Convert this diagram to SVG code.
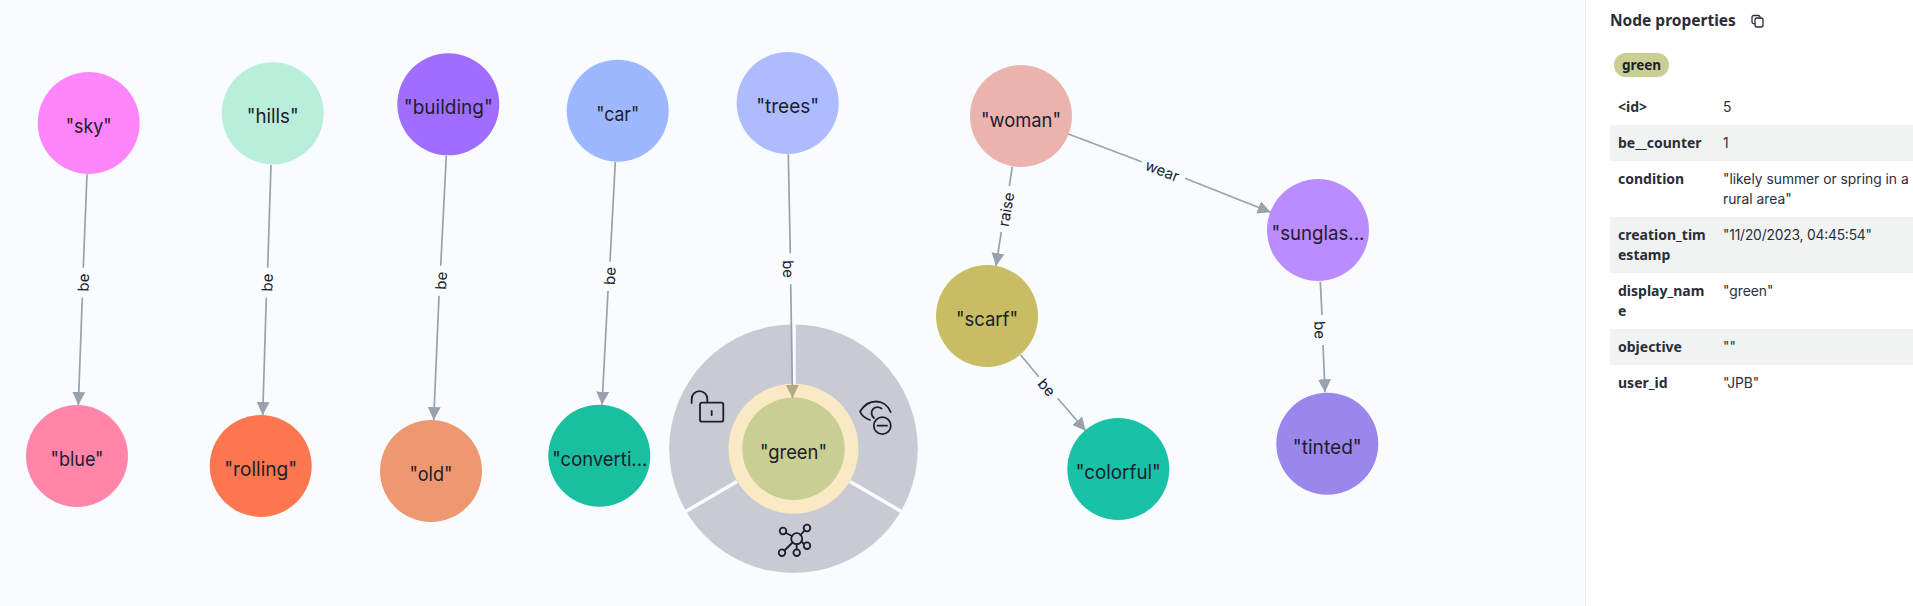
<svg xmlns="http://www.w3.org/2000/svg" width="1913" height="606" viewBox="0 0 1913 606">
<style>
.n text{font:19.5px Inter,"Noto Sans",sans-serif;fill:#1c202c;text-anchor:middle}
.e{stroke:#9aa1ae;stroke-width:1.7;fill:none}
.l{font:15px Inter,"Noto Sans",sans-serif;fill:#1c202c;text-anchor:middle;dominant-baseline:central}
.k{font:700 14px "Noto Sans",Inter,sans-serif;fill:#2a2e38}
.v{font:13.8px Inter,"Noto Sans",sans-serif;fill:#2a2e38}
.i{stroke:#1c202c;stroke-width:1.8;fill:none;stroke-linecap:round;stroke-linejoin:round}
.rs{fill:#f1f3f3}
</style>
<defs>
<marker id="a" markerUnits="userSpaceOnUse" markerWidth="14" markerHeight="14" refX="13" refY="7" orient="auto"><path d="M0 0.5L13 7L0 13.500Z" fill="#9aa1ae"/></marker>
<marker id="b" markerUnits="userSpaceOnUse" markerWidth="14" markerHeight="14" refX="13" refY="7" orient="auto"><path d="M0 0.5L13 7L0 13.500Z" fill="#b2a88a"/></marker>
</defs>
<rect width="1913" height="606" fill="#f9fcff"/>
<rect x="1586" y="0" width="327" height="606" fill="#fff"/>
<rect x="1585" y="0" width="1" height="606" fill="#e6ebf3"/>
<g id="menu">
<circle cx="793.500" cy="448.700" r="124.300" fill="#c8cbd3"/>
<path d="M794 323V385M737 481.500L684 512.500M850 481.500L903 512.500" stroke="#f9fcff" stroke-width="3.500"/>
<g id="icon-lock" class="i">
<path d="M691.700 403v-4a7.800 7.800 0 0 1 15.600 0v3"/>
<rect x="700" y="402.700" width="23.300" height="19" rx="2"/>
<path d="M711.700 411v4"/>
</g>
<g id="icon-eye" class="i">
<path d="M870 420C864 418 861 414 860 411.500C864 405 870 401.500 876 401.500C882 401.500 888 405 890.700 412"/>
<path d="M881.500 408.500C879 406.500 875 406.500 873 409C870.500 412 871.500 416 874 418"/>
<circle cx="882.300" cy="425.700" r="8.500"/>
<path d="M877.500 425.700h9.500"/>
</g>
<g id="icon-graph" class="i">
<circle cx="796.700" cy="538.700" r="5.500"/><circle cx="783" cy="531" r="3.300"/><circle cx="807" cy="528" r="3.300"/><circle cx="807" cy="545.700" r="3.300"/><circle cx="782" cy="552.700" r="3.300"/><circle cx="796.700" cy="552.700" r="3.300"/>
<path d="M786 533L792 536M804.500 530.500L800.500 535M804 544L801.500 541.500M784.500 550.500L792.500 542.500M796.700 544.200V549.400"/>
</g>
</g>
<g id="n-green" class="n"><circle cx="793.500" cy="448.700" r="65" fill="#f9e9c5"/><circle cx="793.500" cy="448.700" r="51.200" fill="#c9ce93"/><text x="793.500" y="459" textLength="67" lengthAdjust="spacingAndGlyphs">"green"</text></g>
<g id="connectors">
<path class="e" d="M87 174.300L83.300 267.700"/><path class="e" marker-end="url(#a)" d="M82.300 297.700L78.300 405"/>
<text class="l" transform="translate(83.300 282.500) rotate(-87.800)">be</text>
<path class="e" d="M271 164.700L267.700 267.700"/><path class="e" marker-end="url(#a)" d="M266.300 297.700L262.700 415"/>
<text class="l" transform="translate(267 282.500) rotate(-88)">be</text>
<path class="e" d="M446.300 155.700L440.700 265.700"/><path class="e" marker-end="url(#a)" d="M439 295.700L433.700 420"/>
<text class="l" transform="translate(441 280.700) rotate(-87)">be</text>
<path class="e" d="M615.300 162L610 261.700"/><path class="e" marker-end="url(#a)" d="M608 291L602 404.700"/>
<text class="l" transform="translate(609.700 276) rotate(-86.800)">be</text>
<path class="e" d="M788.300 154.300L790.300 253.300"/><path class="e" marker-end="url(#b)" d="M790.700 284.300L792.500 398"/>
<text class="l" transform="translate(788.500 269) rotate(89)">be</text>
<path class="e" d="M1068.300 134L1141.700 161.700"/><path class="e" marker-end="url(#a)" d="M1185 178.300L1270.700 212.300"/>
<text class="l" transform="translate(1162.300 170.700) rotate(21)">wear</text>
<path class="e" d="M1012.300 166.700L1009.300 186"/><path class="e" marker-end="url(#a)" d="M1001.300 232L996 266"/>
<text class="l" transform="translate(1006 209.300) rotate(-80)">raise</text>
<path class="e" d="M1020.700 355L1038.700 376.700"/><path class="e" marker-end="url(#a)" d="M1057.700 398.300L1085.700 430.700"/>
<text class="l" transform="translate(1046.700 387.300) rotate(49)">be</text>
<path class="e" d="M1320.300 281.700L1322 315"/><path class="e" marker-end="url(#a)" d="M1323 345L1325 392.300"/>
<text class="l" transform="translate(1320 330) rotate(88)">be</text>
</g>
<g id="n-sky" class="n"><circle cx="88.700" cy="123" r="51" fill="#ff85fb"/><text x="88.700" y="133" textLength="46" lengthAdjust="spacingAndGlyphs">"sky"</text></g>
<g id="n-hills" class="n"><circle cx="272.700" cy="113.300" r="51" fill="#b9efda"/><text x="272.700" y="123.300" textLength="52" lengthAdjust="spacingAndGlyphs">"hills"</text></g>
<g id="n-building" class="n"><circle cx="448.300" cy="104.300" r="51" fill="#a06eff"/><text x="448.300" y="114" textLength="89" lengthAdjust="spacingAndGlyphs">"building"</text></g>
<g id="n-car" class="n"><circle cx="617.700" cy="110.700" r="51" fill="#9db8ff"/><text x="617.700" y="121" textLength="43" lengthAdjust="spacingAndGlyphs">"car"</text></g>
<g id="n-trees" class="n"><circle cx="787.700" cy="103" r="51" fill="#aebcff"/><text x="787.700" y="113" textLength="63" lengthAdjust="spacingAndGlyphs">"trees"</text></g>
<g id="n-woman" class="n"><circle cx="1021" cy="116" r="51" fill="#eab3ad"/><text x="1021" y="126.500" textLength="80" lengthAdjust="spacingAndGlyphs">"woman"</text></g>
<g id="n-sunglasses" class="n"><circle cx="1318" cy="230" r="51" fill="#bb8cff"/><text x="1318" y="240" textLength="93" lengthAdjust="spacingAndGlyphs">"sunglas...</text></g>
<g id="n-scarf" class="n"><circle cx="987" cy="316" r="51" fill="#c8bc65"/><text x="987" y="326" textLength="62" lengthAdjust="spacingAndGlyphs">"scarf"</text></g>
<g id="n-blue" class="n"><circle cx="77" cy="456" r="51" fill="#ff85a9"/><text x="77" y="465.700" textLength="53" lengthAdjust="spacingAndGlyphs">"blue"</text></g>
<g id="n-rolling" class="n"><circle cx="260.700" cy="466" r="51" fill="#fc774f"/><text x="260.700" y="476" textLength="73" lengthAdjust="spacingAndGlyphs">"rolling"</text></g>
<g id="n-old" class="n"><circle cx="431" cy="471" r="51" fill="#ed9871"/><text x="431" y="481" textLength="43" lengthAdjust="spacingAndGlyphs">"old"</text></g>
<g id="n-convertible" class="n"><circle cx="599.300" cy="455.700" r="51" fill="#18c09f"/><text x="599.800" y="465.700" textLength="95" lengthAdjust="spacingAndGlyphs">"converti...</text></g>
<g id="n-colorful" class="n"><circle cx="1118.300" cy="469" r="51" fill="#18c2a6"/><text x="1118.300" y="479" textLength="85" lengthAdjust="spacingAndGlyphs">"colorful"</text></g>
<g id="n-tinted" class="n"><circle cx="1327.300" cy="443.700" r="51" fill="#9a87ec"/><text x="1327.300" y="453.700" textLength="69" lengthAdjust="spacingAndGlyphs">"tinted"</text></g>
<g id="panel">
<text x="1610" y="26" font-family="Noto Sans, sans-serif" font-weight="700" font-size="15.500" fill="#2a2e38">Node properties</text>
<g class="i" style="stroke:#2a2e38;stroke-width:1.3"><rect x="1755" y="18" width="8" height="9" rx="2"/><path d="M1755 23.500a2 2 0 0 1-3-2v-4a2 2 0 0 1 2-2h4a2 2 0 0 1 2 2.500"/></g>
<rect x="1614" y="53" width="55" height="24" rx="12" fill="#c9ce93"/>
<text x="1641.500" y="70" text-anchor="middle" font-family="Noto Sans, sans-serif" font-weight="700" font-size="13.500" fill="#1c202c">green</text>
<rect class="rs" x="1610" y="125" width="303" height="36"/>
<rect class="rs" x="1610" y="217" width="303" height="56"/>
<rect class="rs" x="1610" y="329" width="303" height="36"/>
<text class="k" x="1618" y="112">&lt;id&gt;</text><text class="v" x="1723" y="112">5</text>
<text class="k" x="1618" y="148">be__counter</text><text class="v" x="1723" y="148">1</text>
<text class="k" x="1618" y="184">condition</text><text class="v" x="1723" y="184">"likely summer or spring in a</text><text class="v" x="1723" y="204">rural area"</text>
<text class="k" x="1618" y="240">creation_tim</text><text class="k" x="1618" y="260">estamp</text><text class="v" x="1723" y="240" textLength="149">"11/20/2023, 04:45:54"</text>
<text class="k" x="1618" y="296">display_nam</text><text class="k" x="1618" y="316">e</text><text class="v" x="1723" y="296">"green"</text>
<text class="k" x="1618" y="352">objective</text><text class="v" x="1723" y="352">""</text>
<text class="k" x="1618" y="388">user_id</text><text class="v" x="1723" y="388">"JPB"</text>
</g>
</svg>
